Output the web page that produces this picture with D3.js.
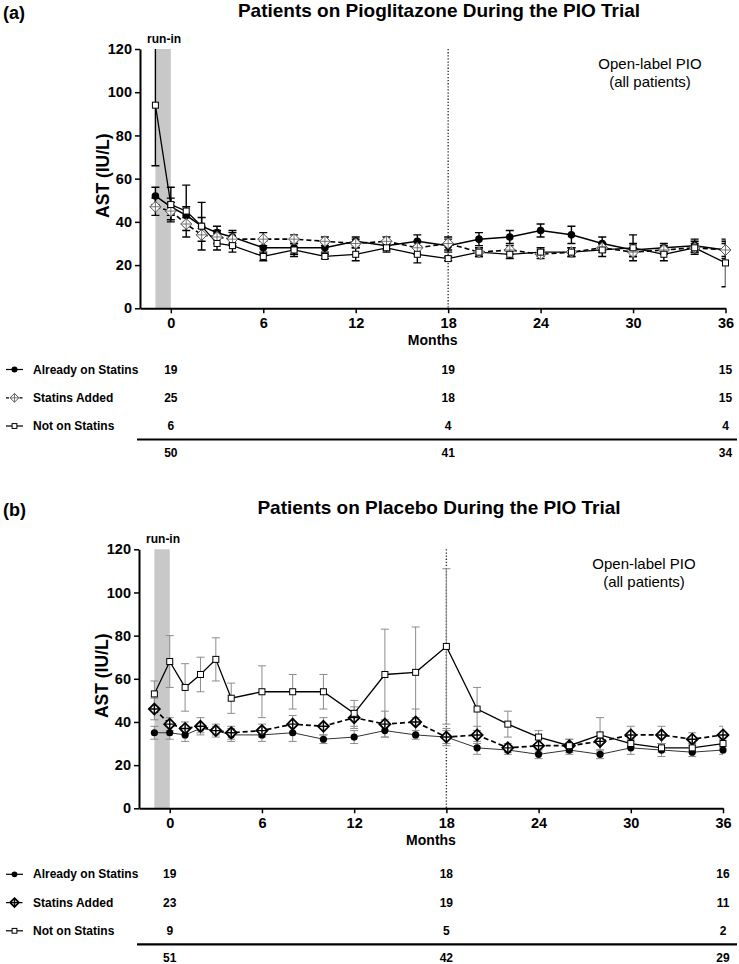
<!DOCTYPE html>
<html>
<head>
<meta charset="utf-8">
<script src="https://cdn.jsdelivr.net/npm/d3@7"></script>
<style>
  html, body { margin: 0; padding: 0; background: #fff; }
  svg { display: block; font-family: "Liberation Sans", Arial, Helvetica, sans-serif; }
</style>
</head>
<body>
<svg id="chart" width="739" height="964"></svg>
<script>
// ---------- DATA ----------
const months = [-1, 0, 1, 2, 3, 4, 6, 8, 10, 12, 14, 16, 18, 20, 22, 24, 26, 28, 30, 32, 34, 36];
const xTicks = [0, 6, 12, 18, 24, 30, 36];
const yTicks = [0, 20, 40, 60, 80, 100, 120];
const seriesNames = ["Already on Statins", "Statins Added", "Not on Statins"];
const tableMonths = [0, 18, 36];

// (a) Pioglitazone arm
const pioAlready    = [52, 47, 43, 38, 35, 33, 28, 28, 28, 31, 29, 31, 29, 32, 33, 36, 34, 30, 27, 28, 29, 27];
const pioAlreadyErr = [4, 4, 4, 4, 3, 3, 3, 3, 2, 2, 2, 3, 3, 3, 3, 3, 4, 3, 3, 2, 3, 4];
const pioAdded      = [47, 45, 39, 34, 33, 32, 32, 32, 31, 30, 31, 28, 30, 26, 27, 25, 26, 28, 26, 27, 28, 27];
const pioAddedErr   = [4, 4, 3, 3, 3, 3, 3, 2, 2, 2, 2, 3, 3, 2, 2, 2, 2, 2, 2, 2, 2, 3];
const pioNot        = [94, 48, 45, 38, 30, 29, 24, 27, 24, 25, 28, 25, 23, 26, 25, 26, 26, 27, 28, 25, 28, 21];
const pioNotErr     = [28, 8, 12, 11, 3, 3, 2, 3, 1, 3, 2, 4, 1, 2, 2, 2, 2, 3, 6, 3, 3, 11];
const pioCountsAlready = [19, 19, 15];
const pioCountsAdded   = [25, 18, 15];
const pioCountsNot     = [6, 4, 4];
const pioTotals        = [50, 41, 34];

// (b) Placebo arm
const plcAlready    = [35, 35, 34, 37, 36, 34, 34, 35, 32, 33, 36, 34, 33, 28, 27, 25, 27, 25, 28, 27, 26, 27];
const plcAlreadyErr = [3, 3, 3, 2, 2, 3, 3, 4, 2, 3, 3, 2, 3, 3, 2, 2, 2, 2, 3, 3, 2, 2];
const plcAdded      = [46, 39, 37, 38, 36, 35, 36, 39, 38, 42, 39, 40, 33, 34, 28, 29, 29, 31, 34, 34, 32, 34];
const plcAddedErr   = [5, 3, 3, 4, 3, 3, 3, 4, 4, 5, 6, 6, 4, 4, 2, 3, 3, 4, 4, 4, 3, 4];
const plcNot        = [53, 68, 56, 62, 69, 51, 54, 54, 54, 44, 62, 63, 75, 46, 39, 33, 29, 34, 30, 28, 28, 30];
const plcNotErr     = [6, 12, 11, 8, 10, 7, 12, 8, 8, 6, 21, 21, 36, 10, 6, 3, 3, 8, 2, 2, 2, 2];
const plcCountsAlready = [19, 18, 16];
const plcCountsAdded   = [23, 19, 11];
const plcCountsNot     = [9, 5, 2];
const plcTotals        = [51, 42, 29];

// ---------- DRAWING ----------
const svg = d3.select("#chart");

function drawMarker(g, kind, size, opts) {
  if (kind === "circle") {
    g.append("circle").attr("r", size).attr("fill", "#000").attr("stroke", "none");
  } else if (kind === "diamond") {
    const s = size;
    g.append("path")
      .attr("d", `M0,${-s}L${s},0L0,${s}L${-s},0Z`)
      .attr("fill", "#fff").attr("stroke", opts.diamondStroke).attr("stroke-width", opts.diamondWidth);
    g.append("path")
      .attr("d", `M${-s},0H${s}M0,${-s}V${s}`)
      .attr("fill", "none").attr("stroke", opts.diamondStroke).attr("stroke-width", opts.diamondWidth * 0.8);
  } else if (kind === "square") {
    g.append("rect").attr("x", -size).attr("y", -size).attr("width", 2 * size).attr("height", 2 * size)
      .attr("fill", "#fff").attr("stroke", "#000").attr("stroke-width", 1);
  }
}

function drawPanel(p) {
  const x = d3.scaleLinear().domain([-2, 36]).range([p.xLeft, p.xRight]);
  const y = d3.scaleLinear().domain([0, 120]).range([p.yBottom, p.yTop]);
  const g = svg.append("g");

  // panel letter & title
  g.append("text").attr("x", 3).attr("y", p.titleY + 1.5).attr("font-size", 18).attr("font-weight", "bold").text(p.letter);
  g.append("text").attr("x", 439).attr("y", p.titleY).attr("text-anchor", "middle")
    .attr("font-size", 19).attr("font-weight", "bold").text(p.title);

  // run-in shading
  g.append("rect").attr("x", x(-1)).attr("y", y(120)).attr("width", x(0) - x(-1)).attr("height", y(0) - y(120))
    .attr("fill", "#c8c8c8");
  g.append("text").attr("x", (x(-1) + x(0)) / 2 + 1).attr("y", y(120) - 6.5).attr("text-anchor", "middle")
    .attr("font-size", 12).attr("font-weight", "bold").text("run-in");

  // dotted vertical line at 18 months
  g.append("line").attr("x1", x(18)).attr("x2", x(18)).attr("y1", y(120)).attr("y2", y(0))
    .attr("stroke", "#333").attr("stroke-width", 1.4).attr("stroke-dasharray", "1.3,1.8");

  // open-label annotation
  g.append("text").attr("x", p.noteX).attr("y", p.yTop + 19.5).attr("text-anchor", "middle")
    .attr("font-size", 15).text("Open-label PIO");
  g.append("text").attr("x", p.noteX).attr("y", p.yTop + 37.5).attr("text-anchor", "middle")
    .attr("font-size", 15).text("(all patients)");

  // clip
  const clipId = "clip" + p.letter.replace(/\W/g, "");
  svg.append("clipPath").attr("id", clipId).append("rect")
    .attr("x", p.xLeft).attr("y", p.yTop).attr("width", p.xRight - p.xLeft).attr("height", p.yBottom - p.yTop);
  const plot = g.append("g").attr("clip-path", `url(#${clipId})`);

  const line = d3.line().x((d, i) => x(months[i])).y(d => y(d));

  // lines
  p.series.forEach(s => {
    plot.append("path").datum(s.values).attr("d", line).attr("fill", "none")
      .attr("stroke", s.lineColor).attr("stroke-width", s.lineWidth)
      .attr("stroke-dasharray", s.dash || null);
  });

  // error bars
  p.series.forEach(s => {
    const eg = plot.append("g").attr("stroke", p.errColor).attr("stroke-width", p.errWidth).attr("fill", "none");
    s.values.forEach((v, i) => {
      const e = s.errs[i];
      const cx = x(months[i]);
      eg.append("line").attr("x1", cx).attr("x2", cx).attr("y1", y(v - e)).attr("y2", y(v + e));
      eg.append("line").attr("x1", cx - 4).attr("x2", cx + 4).attr("y1", y(v - e)).attr("y2", y(v - e));
      eg.append("line").attr("x1", cx - 4).attr("x2", cx + 4).attr("y1", y(v + e)).attr("y2", y(v + e));
    });
  });

  // markers
  p.series.forEach(s => {
    s.values.forEach((v, i) => {
      const mg = g.append("g").attr("transform", `translate(${x(months[i])},${y(v)})`);
      drawMarker(mg, s.marker, s.markerSize, p);
    });
  });

  // axes
  const yAxis = d3.axisLeft(y).tickValues(yTicks).tickSize(5).tickSizeOuter(0).tickPadding(3);
  const xAxis = d3.axisBottom(x).tickValues(xTicks).tickSize(5).tickSizeOuter(0).tickPadding(4);
  const ya = g.append("g").attr("transform", `translate(${p.xLeft},0)`).call(yAxis);
  const xa = g.append("g").attr("transform", `translate(0,${p.yBottom})`).call(xAxis);
  [ya, xa].forEach(a => {
    a.select(".domain").attr("stroke", "#000").attr("stroke-width", 2);
    a.selectAll(".tick line").attr("stroke", "#000").attr("stroke-width", 1.5);
    a.selectAll(".tick text").attr("font-size", 14.5).attr("font-weight", "bold").attr("fill", "#000")
      .attr("font-family", "Liberation Sans, Arial, sans-serif");
  });
  g.append("text").attr("transform", `translate(${p.xLeft - 31.5},${(p.yTop + p.yBottom) / 2 - 3}) rotate(-90)`)
    .attr("text-anchor", "middle").attr("font-size", 17.5).attr("font-weight", "bold").text("AST (IU/L)");
  g.append("text").attr("x", (p.xLeft + p.xRight) / 2).attr("y", p.yBottom + 36.5).attr("text-anchor", "middle")
    .attr("font-size", 14).attr("font-weight", "bold").text("Months");

  // table
  const rowY = [p.tableY, p.tableY + 28.3, p.tableY + 56.5];
  p.series.forEach((s, r) => {
    const cy = rowY[r] - 4;
    g.append("line").attr("x1", 6).attr("x2", 23).attr("y1", cy).attr("y2", cy)
      .attr("stroke", "#000").attr("stroke-width", 1.2).attr("stroke-dasharray", s.dash ? "3,1.5" : null);
    const mg = g.append("g").attr("transform", `translate(14.5,${cy})`);
    drawMarker(mg, s.marker, s.markerSize * 0.8, p);
    g.append("text").attr("x", 33).attr("y", rowY[r]).attr("font-size", 12).attr("font-weight", "bold").text(s.name);
    s.counts.forEach((c, j) => {
      g.append("text").attr("x", x(tableMonths[j])).attr("y", rowY[r]).attr("text-anchor", "middle")
        .attr("font-size", 12).attr("font-weight", "bold").text(c);
    });
  });
  g.append("line").attr("x1", 137).attr("x2", 737).attr("y1", p.tableY + 66).attr("y2", p.tableY + 66)
    .attr("stroke", "#000").attr("stroke-width", 2.2);
  p.totals.forEach((c, j) => {
    g.append("text").attr("x", x(tableMonths[j])).attr("y", p.tableY + 83.5).attr("text-anchor", "middle")
      .attr("font-size", 12).attr("font-weight", "bold").text(c);
  });
}

drawPanel({
  letter: "(a)", title: "Patients on Pioglitazone During the PIO Trial",
  titleY: 17, xLeft: 140, xRight: 725.5, yTop: 49, yBottom: 308.3, noteX: 650,
  tableY: 373.5, errColor: "#000", errWidth: 1.4, diamondStroke: "#555", diamondWidth: 1,
  totals: pioTotals,
  series: [
    { name: seriesNames[0], values: pioAlready, errs: pioAlreadyErr, counts: pioCountsAlready, marker: "circle", markerSize: 3.8, lineColor: "#000", lineWidth: 1.5 },
    { name: seriesNames[1], values: pioAdded, errs: pioAddedErr, counts: pioCountsAdded, marker: "diamond", markerSize: 5.5, lineColor: "#000", lineWidth: 1.6, dash: "5,3" },
    { name: seriesNames[2], values: pioNot, errs: pioNotErr, counts: pioCountsNot, marker: "square", markerSize: 3, lineColor: "#000", lineWidth: 1.3 }
  ]
});

drawPanel({
  letter: "(b)", title: "Patients on Placebo During the PIO Trial",
  titleY: 514.3, xLeft: 139, xRight: 723, yTop: 549.3, yBottom: 808.3, noteX: 644,
  tableY: 878.3, errColor: "#8c8c8c", errWidth: 1, diamondStroke: "#000", diamondWidth: 1.8,
  totals: plcTotals,
  series: [
    { name: seriesNames[0], values: plcAlready, errs: plcAlreadyErr, counts: plcCountsAlready, marker: "circle", markerSize: 3.6, lineColor: "#333", lineWidth: 1 },
    { name: seriesNames[1], values: plcAdded, errs: plcAddedErr, counts: plcCountsAdded, marker: "diamond", markerSize: 5.5, lineColor: "#000", lineWidth: 1.7, dash: "5,3" },
    { name: seriesNames[2], values: plcNot, errs: plcNotErr, counts: plcCountsNot, marker: "square", markerSize: 3, lineColor: "#000", lineWidth: 1.3 }
  ]
});
</script>
</body>
</html>
